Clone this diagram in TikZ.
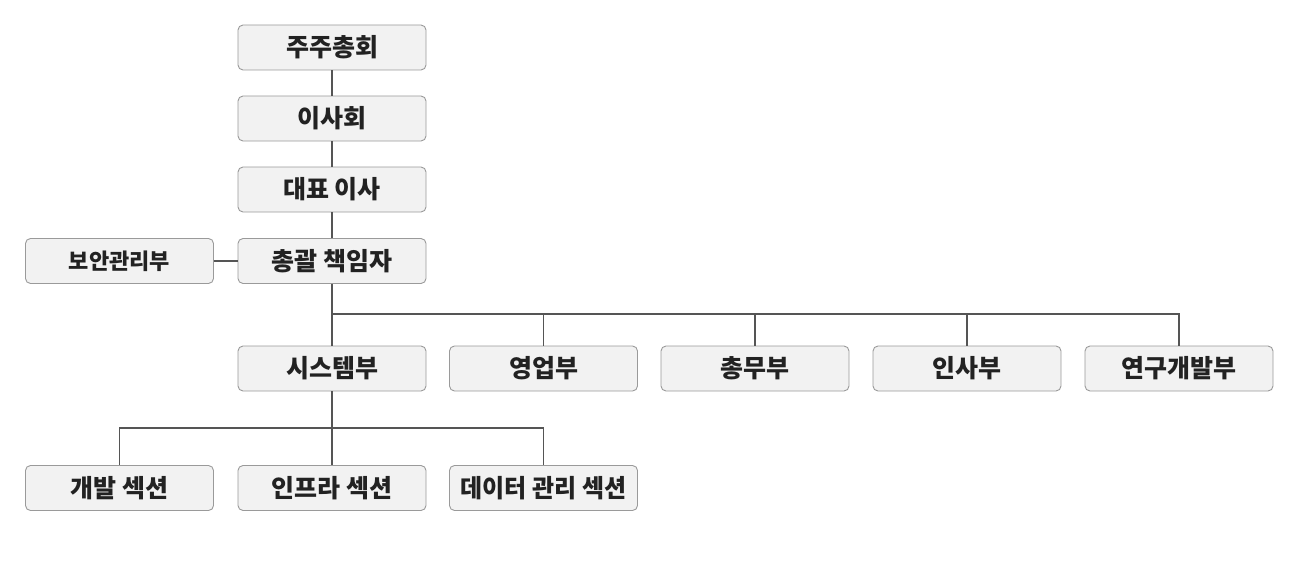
\documentclass[tikz,border=0pt]{standalone}
\usepackage{fontspec}
\newfontfamily\kr{Noto Sans CJK KR}
\definecolor{boxfill}{HTML}{F2F2F2}
\definecolor{boxline}{HTML}{9A9A9A}
\definecolor{connline}{HTML}{555555}
\definecolor{txt}{HTML}{222222}
\tikzset{
  orgbox/.style={draw=boxline, line width=0.9pt, fill=boxfill, rounded corners=5pt,
    minimum width=188pt, minimum height=45pt, inner sep=0pt,
    font=\kr\bfseries\fontsize{25}{28}\selectfont, text=txt},
  sidebox/.style={orgbox, font=\kr\bfseries\fontsize{22}{25}\selectfont},
  conn/.style={draw=connline, line width=1.6pt}
}
\begin{document}
\begin{tikzpicture}[x=1pt,y=-1pt]
\useasboundingbox (0,0) rectangle (1300,567);
\node[orgbox] (agm) at (332,47.5) {주주총회};
\node[orgbox] (board) at (332,118.5) {이사회};
\node[orgbox] (ceo) at (332,189.5) {대표 이사};
\node[orgbox] (cgo) at (332,261) {총괄 책임자};
\node[sidebox] (sec) at (119.5,261) {보안관리부};
\node[orgbox] (sys) at (332,368.5) {시스템부};
\node[orgbox] (sales) at (543.5,368.5) {영업부};
\node[orgbox] (ga) at (755,368.5) {총무부};
\node[orgbox] (hr) at (967,368.5) {인사부};
\node[orgbox] (rnd) at (1179,368.5) {연구개발부};
\node[orgbox] (dev) at (119.5,488) {개발 섹션};
\node[orgbox] (infra) at (332,488) {인프라 섹션};
\node[orgbox] (data) at (543.5,488) {\scalebox{0.96}[1]{데이터 관리 섹션}};
\coordinate (bus1) at (332,314);
\coordinate (bus2) at (332,428);
\draw[conn] (agm) -- (board);
\draw[conn] (board) -- (ceo);
\draw[conn] (ceo) -- (cgo);
\draw[conn] (sec) -- (cgo);
\draw[conn] (cgo) -- (bus1) -- (sys);
\draw[conn] (bus1) -| (sales.north);
\draw[conn] (bus1) -| (ga.north);
\draw[conn] (bus1) -| (hr.north);
\draw[conn] (bus1) -| (rnd.north);
\draw[conn] (sys) -- (bus2) -- (infra);
\draw[conn] (bus2) -| (dev.north);
\draw[conn] (bus2) -| (data.north);
\end{tikzpicture}
\end{document}
